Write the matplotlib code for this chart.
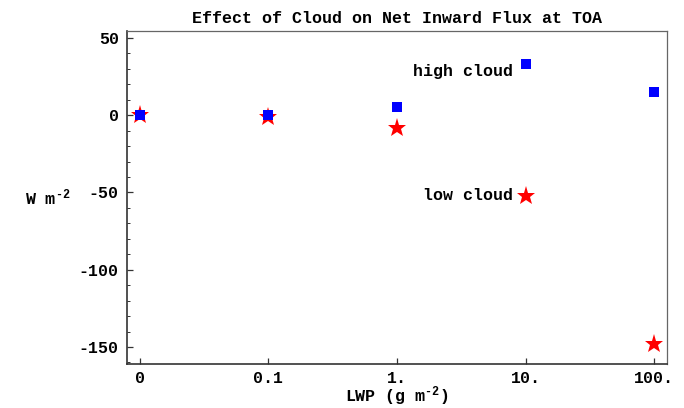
import matplotlib
matplotlib.use("Agg")
import matplotlib.pyplot as plt
from matplotlib.ticker import MultipleLocator, FixedLocator

plt.rcParams['font.family'] = ['Liberation Mono', 'DejaVu Sans']
plt.rcParams['font.weight'] = 'bold'
plt.rcParams['mathtext.fontset'] = 'custom'
plt.rcParams['mathtext.rm'] = 'Liberation Mono:bold'
plt.rcParams['mathtext.default'] = 'rm'
plt.rcParams['axes.unicode_minus'] = False

x_labels = ["0", "0.1", "1.", "10.", "100."]
high_cloud = [0, 0, 5, 33, 15]
low_cloud = [0, -1, -8, -52, -148]

fig = plt.figure(figsize=(6.84, 4.08), dpi=100)
ax = fig.add_axes([0.1857, 0.1078, 0.975 - 0.1857, 0.924 - 0.1078])

xpos = list(range(len(x_labels)))
ax.plot(xpos, low_cloud, linestyle='none', marker='*', color='#ff0000', markersize=14, markeredgewidth=0)
ax.plot(xpos, high_cloud, linestyle='none', marker='s', color='#0000ff', markersize=7.5, markeredgewidth=0)

ax.set_xlim(-0.1, 4.1)
ax.set_ylim(-161, 54.5)
ax.xaxis.set_major_locator(FixedLocator(xpos))
ax.set_xticklabels(x_labels)
ax.yaxis.set_major_locator(MultipleLocator(50))
ax.yaxis.set_minor_locator(MultipleLocator(10))
ax.tick_params(axis='both', which='major', direction='in', length=4, width=0.9, labelsize=12, pad=6, color='#333333')
ax.tick_params(axis='x', which='major', pad=5)
ax.tick_params(axis='y', which='minor', direction='in', length=2.5, width=0.7, color='#333333')
ax.tick_params(top=False, right=False)

for s in ['left', 'bottom']:
    ax.spines[s].set_linewidth(1.2)
    ax.spines[s].set_color('#333333')
for s in ['top', 'right']:
    ax.spines[s].set_linewidth(0.9)
    ax.spines[s].set_color('#666666')

hy = "\u2010"
ax.set_title("Effect of Cloud on Net Inward Flux at TOA", fontsize=12, fontweight='bold', pad=6)
fig.text(397 / 684, 1 - 402 / 408, "LWP (g m$^{" + hy + "2}$)", fontsize=12, fontweight='bold',
         ha='center', va='baseline')
ax.set_ylabel("W m$^{" + hy + "2}$", fontsize=12, fontweight='bold', rotation=0, labelpad=22, va='center')

ax.text(2.9, 33 - 5, "high cloud", fontsize=12, fontweight='bold', ha='right', va='center')
ax.text(2.9, -52, "low cloud", fontsize=12, fontweight='bold', ha='right', va='center')

fig.savefig("out.png", dpi=100)
